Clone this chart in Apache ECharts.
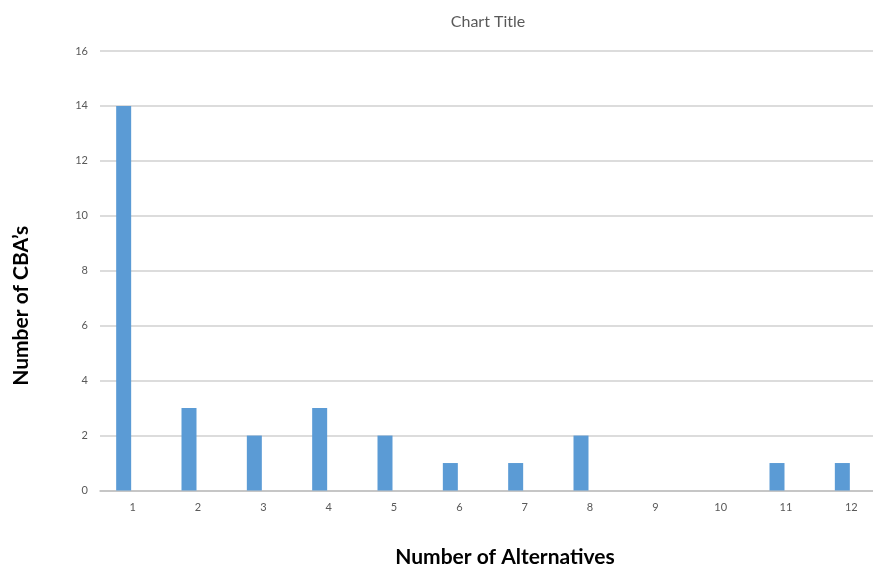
<!DOCTYPE html>
<html>
<head>
<meta charset="utf-8">
<title>Number of CBA’s by Number of Alternatives</title>
<script src="https://cdn.jsdelivr.net/npm/echarts@6/dist/echarts.min.js"></script>
<style>
  html, body { margin: 0; padding: 0; background: #ffffff; }
  #chart { width: 873px; height: 568px; }
</style>
</head>
<body>
<div id="chart"></div>
<script>
// Number of alternatives considered (x categories)
const categories = ['1', '2', '3', '4', '5', '6', '7', '8', '9', '10', '11', '12'];
// Count of CBA's for each number of alternatives
const cbaCounts = [14, 3, 2, 3, 2, 1, 1, 2, 0, 0, 1, 1];
// Value axis ticks
const yMin = 0;
const yMax = 16;
const yStep = 2;

const chart = echarts.init(document.getElementById('chart'), null, { renderer: 'canvas' });

const labelFont = 'Lato, "Open Sans", "Liberation Sans", sans-serif';

chart.setOption({
  backgroundColor: '#ffffff',
  animation: false,
  title: {
    text: 'Chart Title',
    left: 483,
    top: 9,
    textAlign: 'center',
    textStyle: { color: '#595959', fontSize: 16, fontWeight: 'normal', fontFamily: labelFont }
  },
  grid: { left: 100, right: -11, top: 51, bottom: 77.5, containLabel: false, outerBoundsMode: 'none' },
  xAxis: {
    type: 'category',
    data: categories,
    name: 'Number of Alternatives',
    nameLocation: 'middle',
    nameGap: 56,
    nameTextStyle: { color: '#000000', fontSize: 21, fontWeight: 'bold', fontFamily: labelFont, padding: [0, 0, 0, 26] },
    axisLine: { show: true, lineStyle: { color: '#bfbfbf', width: 1.5 } },
    axisTick: { show: false },
    axisLabel: { color: '#595959', fontSize: 11, fontFamily: labelFont, margin: 11 },
    splitLine: { show: false }
  },
  yAxis: {
    type: 'value',
    min: yMin,
    max: yMax,
    interval: yStep,
    name: 'Number of CBA’s',
    nameLocation: 'middle',
    nameRotate: 90,
    nameGap: 68,
    nameTextStyle: { color: '#000000', fontSize: 21, fontWeight: 'bold', fontFamily: labelFont, padding: [0, 70, 0, 0] },
    axisLine: { show: false },
    axisTick: { show: false },
    axisLabel: { color: '#595959', fontSize: 11, fontFamily: labelFont, margin: 12 },
    splitLine: { show: true, lineStyle: { color: '#d0d0d0', width: 1.5 } }
  },
  series: [
    {
      name: 'CBA count',
      type: 'bar',
      data: cbaCounts,
      barWidth: 15,
      barGap: '20%',
      itemStyle: { color: '#5b9bd5' }
    },
    {
      name: 'spacer',
      type: 'bar',
      data: [],
      barWidth: 15,
      itemStyle: { color: 'transparent' }
    }
  ]
});
</script>
</body>
</html>
